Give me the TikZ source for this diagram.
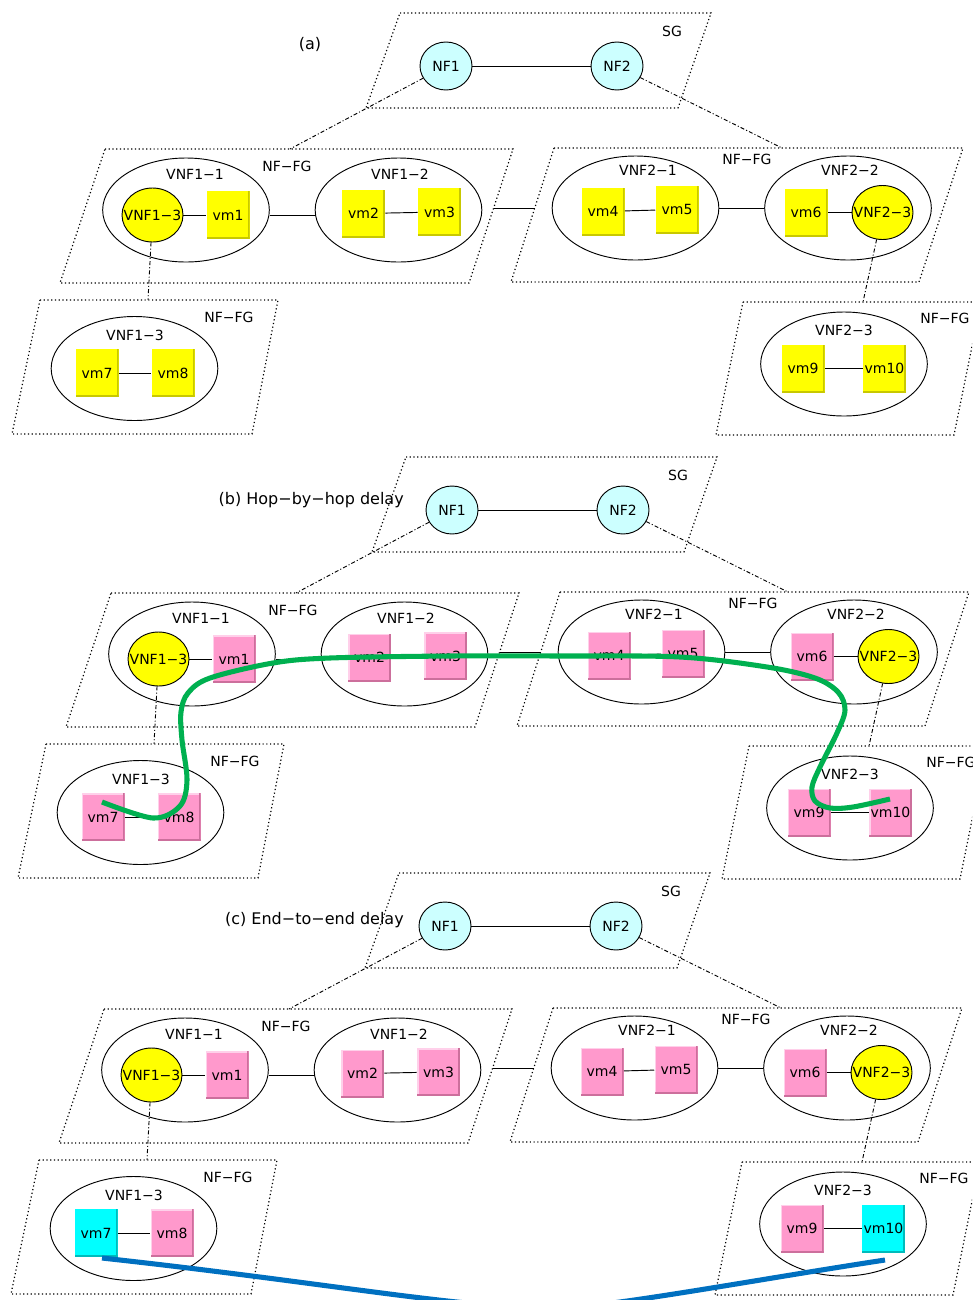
\documentclass[tikz,border=0pt]{standalone}
\usepackage{fontspec}
\setmainfont{DejaVu Sans}
\usetikzlibrary{shapes.geometric}
\definecolor{yel}{HTML}{FFFF00}
\definecolor{yeldark}{HTML}{C8C800}
\definecolor{pnk}{HTML}{FF99CC}
\definecolor{pnkdark}{HTML}{CC6F9C}
\definecolor{pnklight}{HTML}{FFD0EA}
\definecolor{cyn}{HTML}{00FFFF}
\definecolor{cyndark}{HTML}{00BBBB}
\definecolor{nfcyan}{HTML}{CCFFFF}
\definecolor{grn}{HTML}{00B050}
\definecolor{blu}{HTML}{0070C0}
\tikzset{
  border/.style={dash pattern=on 0.9pt off 1.9pt, line width=0.9pt},
  link/.style={dash pattern=on 3pt off 1.6pt on 0.8pt off 1.6pt, line width=0.7pt},
  conn/.style={line width=0.7pt},
  lbl/.style={inner sep=0pt},
  ttl/.style={inner sep=0pt, font=\fontsize{12}{14}\selectfont},
  nf/.style={ellipse, draw, line width=0.7pt, fill=nfcyan, minimum width=39pt, minimum height=36pt, inner sep=0pt},
  vnf/.style={ellipse, draw, line width=0.7pt, minimum width=125pt, minimum height=78pt, inner sep=0pt},
  innervnf/.style={ellipse, draw, line width=0.7pt, fill=yel, minimum width=45.75pt, minimum height=40.5pt, inner sep=0pt},
  vmbox/.style={rectangle, minimum width=32.25pt, minimum height=36pt, inner sep=0pt},
  vmyel/.style={vmbox, fill=yel, path picture={
    \fill[yeldark] (path picture bounding box.north east) rectangle ([xshift=-1.3pt]path picture bounding box.south east);
    \fill[yeldark] (path picture bounding box.south west) rectangle ([yshift=1.3pt]path picture bounding box.south east);}},
  vmpnk/.style={vmbox, fill=pnk, path picture={
    \fill[pnklight] (path picture bounding box.north west) rectangle ([yshift=-1.3pt]path picture bounding box.north east);
    \fill[pnklight] (path picture bounding box.north west) rectangle ([xshift=1.3pt]path picture bounding box.south west);
    \fill[pnkdark] (path picture bounding box.north east) rectangle ([xshift=-1.3pt]path picture bounding box.south east);
    \fill[pnkdark] (path picture bounding box.south west) rectangle ([yshift=1.3pt]path picture bounding box.south east);}},
  vmcyn/.style={vmbox, fill=cyn, path picture={
    \fill[cyndark] (path picture bounding box.north east) rectangle ([xshift=-1.3pt]path picture bounding box.south east);
    \fill[cyndark] (path picture bounding box.south west) rectangle ([yshift=1.3pt]path picture bounding box.south east);}},
}
\newcommand\drawsec[3]{%
  % parallelograms
  \draw[border] (400,13) -- (711,13) -- (678,108) -- (366,108) -- cycle;
  \draw[border] (105,149) -- (513,149) -- (469,283) -- (60,283) -- cycle;
  \draw[border] (554,148) -- (963,148) -- (919,282) -- (511,282) -- cycle;
  \draw[border] (40,300) -- (278,300) -- (252,434) -- (12,434) -- cycle;
  \draw[border] (743,302) -- (981,302) -- (954,435) -- (716,435) -- cycle;
  % group labels
  \node[lbl] (sg#1) at (672,31) {SG};
  \node[lbl] (fga#1) at (287,166) {NF−FG};
  \node[lbl] (fgb#1) at (747,159) {NF−FG};
  \node[lbl] (fgc#1) at (229,317) {NF−FG};
  \node[lbl] (fgd#1) at (945,318) {NF−FG};
  % NF nodes
  \node[nf] (nf1#1) at (446,66) {NF1};
  \node[nf] (nf2#1) at (617,66) {NF2};
  % VNF ellipses
  \node[vnf] (v11#1) at (186,210) {};
  \node[vnf] (v12#1) at (398.5,210) {};
  \node[vnf] (v21#1) at (635.5,208) {};
  \node[vnf] (v22#1) at (848,208) {};
  \node[vnf] (v13#1) at (134.5,368.5) {};
  \node[vnf] (v23#1) at (844,364) {};
  \node[lbl] (lv11#1) at (195,174) {VNF1−1};
  \node[lbl] (lv12#1) at (400,174) {VNF1−2};
  \node[lbl] (lv21#1) at (648,170) {VNF2−1};
  \node[lbl] (lv22#1) at (850,170) {VNF2−2};
  \node[lbl] (lv13#1) at (135,335) {VNF1−3};
  \node[lbl] (lv23#1) at (844,330) {VNF2−3};
  % inner VNFs (text may overflow the ellipse, as in the original)
  \node[innervnf, label={[inner sep=0pt]center:VNF1−3}] (i13#1) at (152.5,215) {};
  \node[innervnf, label={[inner sep=0pt]center:VNF2−3}] (i23#1) at (882.5,212.5) {};
  % VMs
  \node[#2] (vm1#1) at (228,215) {vm1};
  \node[#2] (vm2#1) at (363.5,213.5) {vm2};
  \node[#2] (vm3#1) at (439.5,212) {vm3};
  \node[#2] (vm4#1) at (603,211.5) {vm4};
  \node[#2] (vm5#1) at (677,209.5) {vm5};
  \node[#2] (vm6#1) at (806,212.5) {vm6};
  \node[#3] (vm7#1) at (97,373) {vm7};
  \node[#2] (vm8#1) at (173,373) {vm8};
  \node[#2] (vm9#1) at (803,368.5) {vm9};
  \node[#3] (vm10#1) at (884.5,368.5) {vm10};
  % connector end points on the group borders
  \coordinate (ca#1) at (290,149);
  \coordinate (cb#1) at (782,148);
  \coordinate (cc#1) at (148,300);
  \coordinate (cd#1) at (863,302);
  \coordinate (ce#1) at (493.5,208);
  \coordinate (cf#1) at (535,208);
  % connectors
  \draw[conn] (nf1#1) -- (nf2#1);
  \draw[link] (nf1#1) -- (ca#1);
  \draw[link] (nf2#1) -- (cb#1);
  \draw[link] (i13#1) -- (cc#1);
  \draw[link] (i23#1) -- (cd#1);
  \draw[conn] (ce#1) -- (cf#1);
  \draw[conn] ([yshift=-3.75pt]v11#1.east) -- ([yshift=-3.75pt]v12#1.west);
  \draw[conn] (v21#1) -- (v22#1);
  \draw[conn] (i13#1) -- (vm1#1);
  \draw[conn] (vm2#1) -- (vm3#1);
  \draw[conn] (vm4#1) -- (vm5#1);
  \draw[conn] (vm6#1) -- (i23#1);
  \draw[conn] (vm7#1) -- (vm8#1);
  \draw[conn] (vm9#1) -- (vm10#1);
}
\begin{document}
\begin{tikzpicture}[x=0.75pt,y=-0.75pt,font=\fontsize{10.5}{12}\selectfont]
\useasboundingbox (0,0) rectangle (972,1300);
\clip (0,0) rectangle (972,1300);
% (a)
\drawsec{a}{vmyel}{vmyel}
\node[ttl] (ta) at (310,44) {(a)};
% (b)
\begin{scope}[shift={(6,444)}]
\drawsec{b}{vmpnk}{vmpnk}
\end{scope}
\node[ttl, anchor=east] (tb) at (404,500) {(b) Hop−by−hop delay};
\draw[grn, line width=3.8pt] plot[smooth, tension=0.55] coordinates {
  (102,802) (153,818) (180,806) (187,780) (182,740) (181,712) (188,693)
  (210,678) (273,663) (330,658) (450,656) (560,656) (680,657) (767,667)
  (815,678) (838,692) (845,710) (837,733) (820,767) (812,787) (815,801)
  (830,808) (853,807) (890,799)};
% (c)
\begin{scope}[shift={(-1,860)}]
\drawsec{c}{vmpnk}{vmcyn}
\end{scope}
\node[ttl, anchor=east] (tc) at (404,920) {(c) End−to−end delay};
\draw[blu, line width=3.8pt] (102,1258) .. controls (330,1283) and (470,1310) .. (560,1308)
  .. controls (610,1307) and (760,1279) .. (885,1260);
\end{tikzpicture}
\end{document}
